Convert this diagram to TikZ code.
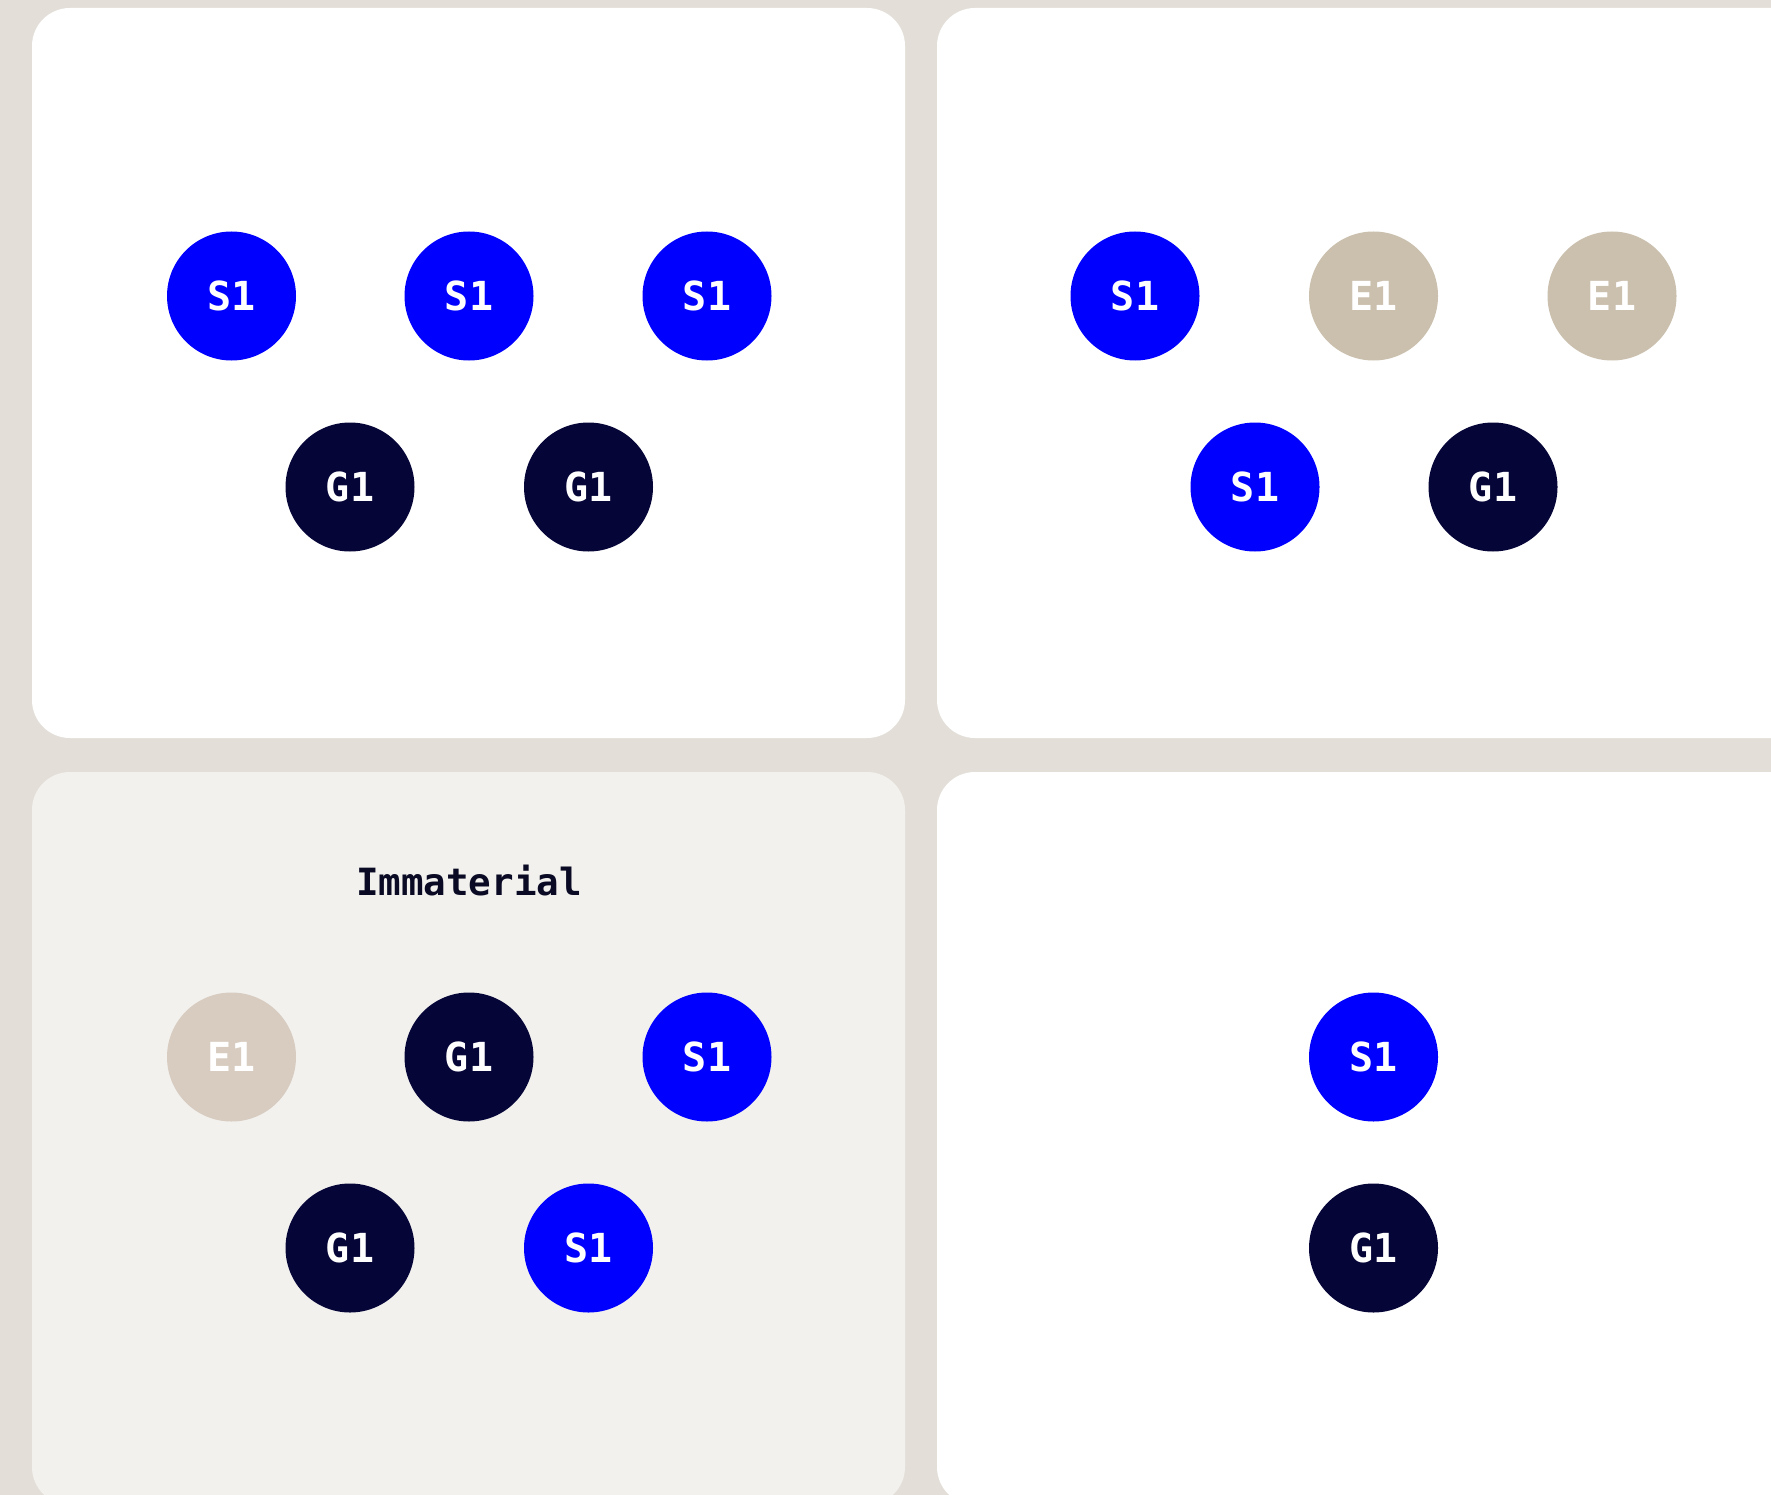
\documentclass[tikz,border=0pt]{standalone}
\usepackage{fontspec}
\newfontfamily\labelfont{DejaVu Sans Mono}[BoldFont={DejaVu Sans Mono Bold}]
\definecolor{bgc}{HTML}{E3DFD8}
\definecolor{panelgray}{HTML}{F2F1EE}
\definecolor{sblue}{HTML}{0000FF}
\definecolor{gnavy}{HTML}{050538}
\definecolor{ebeige}{HTML}{CBBFAE}
\definecolor{ebeigelt}{HTML}{D8CCC0}
\definecolor{titlec}{HTML}{0A0A24}
\tikzset{
  panel/.style={rounded corners=38pt, draw=none},
  dot/.style={circle, minimum size=129pt, inner sep=0pt, text=white,
    font=\labelfont\bfseries\fontsize{40}{48}\selectfont},
  sdot/.style={dot, fill=sblue},
  gdot/.style={dot, fill=gnavy},
  edot/.style={dot, fill=ebeige},
  edotlt/.style={dot, fill=ebeigelt},
}
\begin{document}
\begin{tikzpicture}[x=1pt,y=-1pt]
\useasboundingbox (0,0) rectangle (1771,1495);
\clip (0,0) rectangle (1771,1495);
\fill[bgc] (0,0) rectangle (1771,1495);
% panels
\fill[white, panel] (32,8) rectangle (905,738);
\fill[white, panel] (937,8) rectangle (1830,738);
\fill[panelgray, panel] (32,772) rectangle (905,1505);
\fill[white, panel] (937,772) rectangle (1830,1505);
% panel 1
\node[sdot] (a1) at (231.5,296) {S1};
\node[sdot] (a2) at (469,296) {S1};
\node[sdot] (a3) at (707,296) {S1};
\node[gdot] (a4) at (350,487) {G1};
\node[gdot] (a5) at (588.5,487) {G1};
% panel 2
\node[sdot] (b1) at (1135,296) {S1};
\node[edot] (b2) at (1373.5,296) {E1};
\node[edot] (b3) at (1612,296) {E1};
\node[sdot] (b4) at (1255,487) {S1};
\node[gdot] (b5) at (1493,487) {G1};
% panel 3
\node[text=titlec, font=\labelfont\bfseries\fontsize{37.5}{45}\selectfont] (title) at (469,881) {Immaterial};
\node[edotlt] (c1) at (231.5,1057) {E1};
\node[gdot] (c2) at (469,1057) {G1};
\node[sdot] (c3) at (707,1057) {S1};
\node[gdot] (c4) at (350,1248) {G1};
\node[sdot] (c5) at (588.5,1248) {S1};
% panel 4
\node[sdot] (d1) at (1373.5,1057) {S1};
\node[gdot] (d2) at (1373.5,1248) {G1};
\end{tikzpicture}
\end{document}
